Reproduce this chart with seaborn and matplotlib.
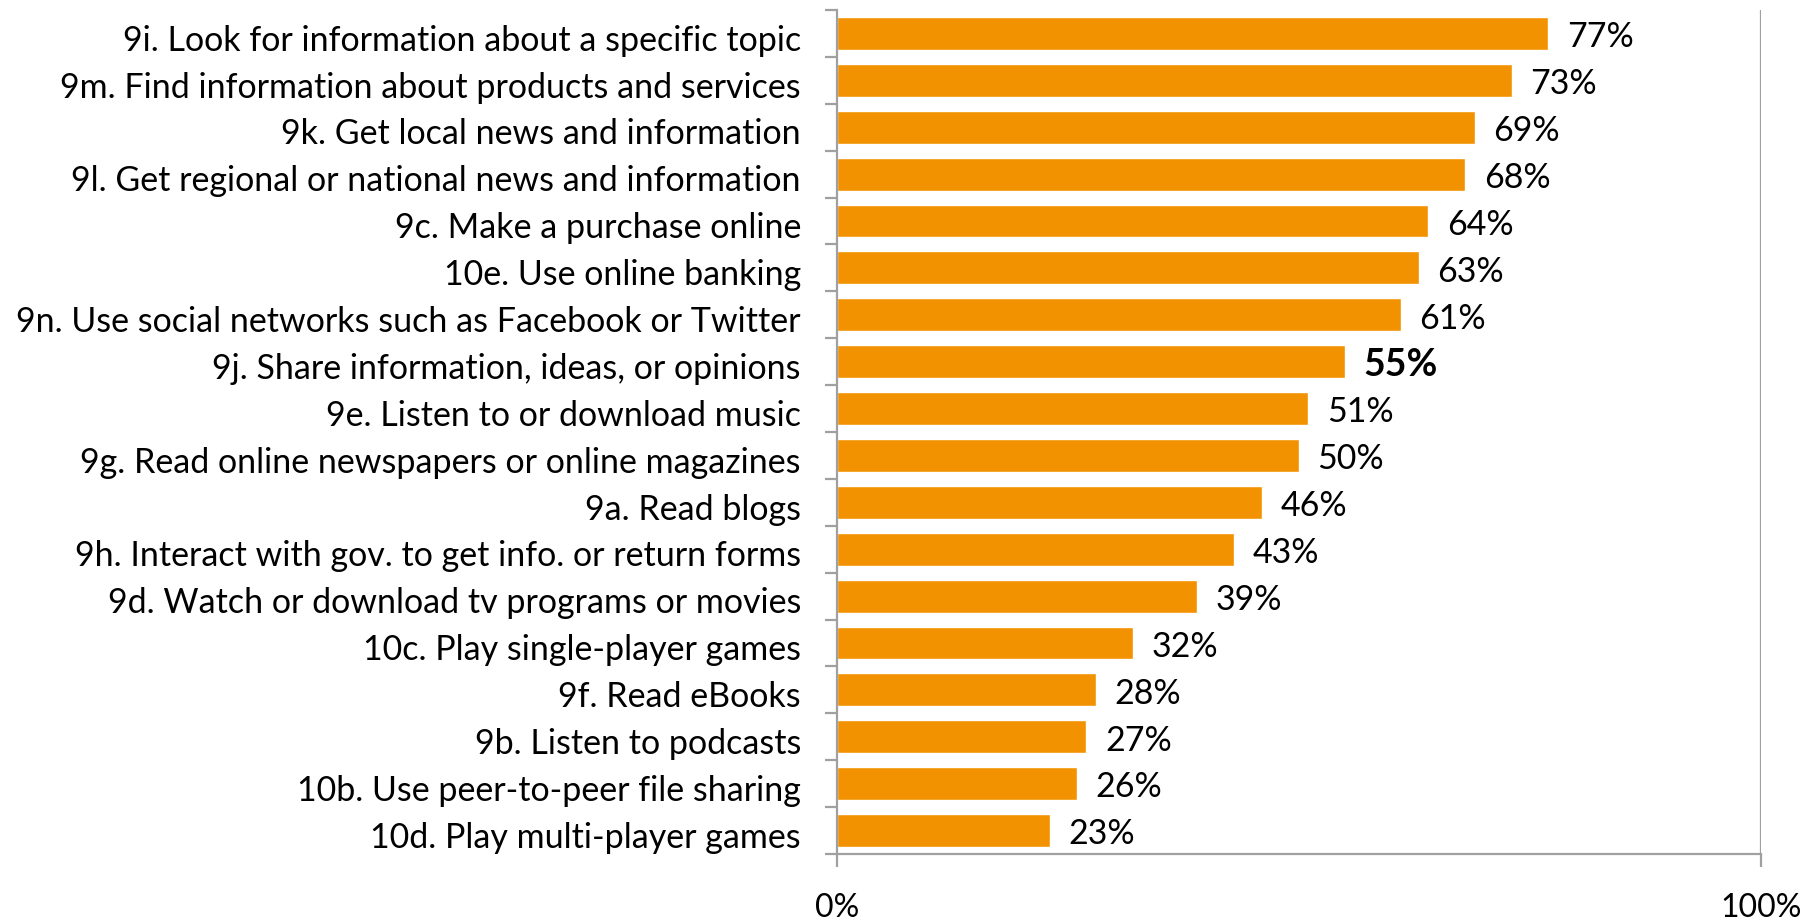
import matplotlib
matplotlib.use("Agg")
import matplotlib.pyplot as plt
import seaborn as sns
import pandas as pd
from matplotlib.ticker import FixedLocator
from matplotlib.transforms import ScaledTranslation

categories = [
    "9i. Look for information about a specific topic",
    "9m. Find information about products and services",
    "9k. Get local news and information",
    "9l. Get regional or national news and information",
    "9c. Make a purchase online",
    "10e. Use online banking",
    "9n. Use social networks such as Facebook or Twitter",
    "9j. Share information, ideas, or opinions",
    "9e. Listen to or download music",
    "9g. Read online newspapers or online magazines",
    "9a. Read blogs",
    "9h. Interact with gov. to get info. or return forms",
    "9d. Watch or download tv programs or movies",
    "10c. Play single-player games",
    "9f. Read eBooks",
    "9b. Listen to podcasts",
    "10b. Use peer-to-peer file sharing",
    "10d. Play multi-player games",
]
values = [77, 73, 69, 68, 64, 63, 61, 55, 51, 50, 46, 43, 39, 32, 28, 27, 26, 23]
highlight = "9j. Share information, ideas, or opinions"
x_ticks = [0, 100]
x_tick_labels = ["0%", "100%"]

df = pd.DataFrame({"activity": categories, "share": values})

sns.set_theme(style="white")
plt.rcParams["font.family"] = ["Lato", "DejaVu Sans"]

bar_color = "#F39200"
axis_gray = "#A0A0A0"

fig = plt.figure(figsize=(18.04, 9.21), dpi=100)
ax = fig.add_axes([837 / 1804, 1 - 854 / 921, (1761 - 837) / 1804, (854 - 10) / 921])

sns.barplot(data=df, x="share", y="activity", orient="h", color=bar_color,
            saturation=1, width=0.7, ax=ax)

ax.set_xlim(0, 100)
ax.set_ylim(len(categories) - 0.5, -0.5)
ax.set_xlabel("")
ax.set_ylabel("")

# Axes lines: left and bottom spines, plus a single gridline at 100%
for side in ["top", "right"]:
    ax.spines[side].set_visible(False)
for side in ["left", "bottom"]:
    ax.spines[side].set_color(axis_gray)
    ax.spines[side].set_linewidth(1.6)
ax.axvline(100, color=axis_gray, lw=1.6, zorder=0)

# Category labels with boundary tick marks between categories
ax.set_yticks(range(len(categories)))
ax.set_yticklabels(categories, fontsize=24.5, color="black")
ax.yaxis.set_minor_locator(FixedLocator([i - 0.5 for i in range(len(categories) + 1)]))
ax.tick_params(axis="y", which="major", length=0, pad=26)
ax.tick_params(axis="y", which="minor", length=9, width=1.6, color=axis_gray, left=True)
nudge = ScaledTranslation(0, -3 / 72, fig.dpi_scale_trans)
for lbl in ax.get_yticklabels():
    lbl.set_transform(lbl.get_transform() + nudge)

ax.set_xticks(x_ticks)
ax.set_xticklabels(x_tick_labels, fontsize=23, color="black")
ax.tick_params(axis="x", which="major", length=9, width=1.6, color=axis_gray,
               bottom=True, pad=19)

# Value labels at the end of each bar
for i, (cat, v) in enumerate(zip(categories, values)):
    if cat == highlight:
        ax.text(v + 2.0, i + 0.08, f"{v}%", va="center", ha="left", fontsize=27,
                fontweight="bold", color="black")
    else:
        ax.text(v + 2.0, i + 0.08, f"{v}%", va="center", ha="left", fontsize=24.5,
                color="black")

fig.savefig("out.png", dpi=100)
